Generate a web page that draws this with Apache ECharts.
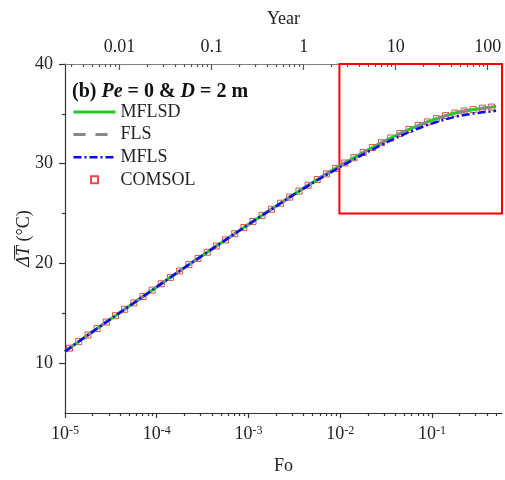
<!DOCTYPE html>
<html><head><meta charset="utf-8">
<script src="https://cdn.jsdelivr.net/npm/echarts@6/dist/echarts.min.js"></script>
<style>html,body{margin:0;padding:0;background:#fff}#c{width:505px;height:480px}</style>
</head><body><div id="c"></div>
<script>
// Fo values of the COMSOL samples
const foComsol = [
  1.12e-5,1.41e-5,1.78e-5,2.24e-5,2.82e-5,3.55e-5,4.47e-5,5.62e-5,7.08e-5,8.91e-5,
  1.12e-4,1.41e-4,1.78e-4,2.24e-4,2.82e-4,3.55e-4,4.47e-4,5.62e-4,7.08e-4,8.91e-4,
  1.12e-3,1.41e-3,1.78e-3,2.24e-3,2.82e-3,3.55e-3,4.47e-3,5.62e-3,7.08e-3,8.91e-3,
  1.12e-2,1.41e-2,1.78e-2,2.24e-2,2.82e-2,3.55e-2,4.47e-2,5.62e-2,7.08e-2,8.91e-2,
  0.112,0.141,0.178,0.224,0.282,0.355,0.447
];
const comsol = [
  11.50,12.16,12.82,13.47,14.12,14.76,15.40,16.04,16.68,17.32,
  17.96,18.60,19.24,19.88,20.50,21.12,21.74,22.36,22.98,23.60,
  24.21,24.82,25.43,26.04,26.65,27.25,27.84,28.42,28.98,29.53,
  30.07,30.60,31.12,31.62,32.11,32.58,33.03,33.44,33.83,34.19,
  34.52,34.82,35.08,35.28,35.44,35.57,35.68
];
// Fo values of the analytical curves
const foLine = [
  1e-5,
  1.12e-5,1.41e-5,1.78e-5,2.24e-5,2.82e-5,3.55e-5,4.47e-5,5.62e-5,7.08e-5,8.91e-5,
  1.12e-4,1.41e-4,1.78e-4,2.24e-4,2.82e-4,3.55e-4,4.47e-4,5.62e-4,7.08e-4,8.91e-4,
  1.12e-3,1.41e-3,1.78e-3,2.24e-3,2.82e-3,3.55e-3,4.47e-3,5.62e-3,7.08e-3,8.91e-3,
  1.12e-2,1.41e-2,1.78e-2,2.24e-2,2.82e-2,3.55e-2,4.47e-2,5.62e-2,7.08e-2,8.91e-2,
  0.112,0.141,0.178,0.224,0.282,0.355,0.447,0.50
];
const mflsd = [
  11.17,
  11.50,12.16,12.82,13.47,14.12,14.76,15.40,16.04,16.68,17.32,
  17.96,18.60,19.24,19.88,20.50,21.12,21.74,22.36,22.98,23.60,
  24.21,24.82,25.43,26.04,26.65,27.25,27.84,28.42,28.98,29.53,
  30.07,30.60,31.12,31.62,32.11,32.58,33.03,33.44,33.83,34.19,
  34.52,34.82,35.08,35.28,35.44,35.57,35.68,35.74
];
const fls = [
  11.17,
  11.50,12.16,12.82,13.47,14.12,14.76,15.40,16.04,16.68,17.32,
  17.96,18.60,19.24,19.88,20.50,21.12,21.74,22.36,22.98,23.60,
  24.21,24.82,25.43,26.04,26.65,27.25,27.84,28.42,28.98,29.52,
  30.06,30.59,31.11,31.61,32.10,32.57,33.02,33.43,33.82,34.18,
  34.51,34.81,35.07,35.27,35.43,35.56,35.67,35.73
];
const mfls = [
  11.17,
  11.50,12.16,12.82,13.47,14.12,14.76,15.40,16.04,16.68,17.32,
  17.96,18.60,19.24,19.88,20.50,21.12,21.74,22.36,22.98,23.60,
  24.21,24.82,25.43,26.04,26.65,27.21,27.78,28.34,28.88,29.41,
  29.93,30.44,30.94,31.42,31.89,32.34,32.77,33.16,33.53,33.87,
  34.18,34.46,34.70,34.88,35.03,35.15,35.25,35.30
];
// tick positions
const foMajorTicks = [1e-5,1e-4,1e-3,1e-2,1e-1];
const foMinorTicks = [
  2e-5,3e-5,4e-5,5e-5,6e-5,7e-5,8e-5,9e-5,
  2e-4,3e-4,4e-4,5e-4,6e-4,7e-4,8e-4,9e-4,
  2e-3,3e-3,4e-3,5e-3,6e-3,7e-3,8e-3,9e-3,
  2e-2,3e-2,4e-2,5e-2,6e-2,7e-2,8e-2,9e-2,
  0.2,0.3,0.4,0.5
];
const yearMajorTicks = [0.01,0.1,1,10,100];
const yearLabels = ['0.01','0.1','1','10','100'];
const yearMinorTicks = [
  0.003,0.004,0.005,0.006,0.007,0.008,0.009,
  0.02,0.03,0.04,0.05,0.06,0.07,0.08,0.09,
  0.2,0.3,0.4,0.5,0.6,0.7,0.8,0.9,
  2,3,4,5,6,7,8,9,
  20,30,40,50,60,70,80,90
];
const yMajorTicks = [10,20,30,40];
const yMinorTicks = [15,25,35];
const zoomBox = [[0.0098,25],[0.58,40]];

const FONT = "'Liberation Serif','Times New Roman',serif";
const TXT = '#222';
const FO_MIN = 1e-5, FO_MAX = 0.58, YR_MIN = 0.00255, YR_MAX = 143;

const chart = echarts.init(document.getElementById('c'), null, {renderer:'canvas'});

function supFmt(v){
  const e = Math.round(Math.log10(v));
  return '{b|10}{s|' + e + '}';
}
function yearFmt(v){
  let best = 0, d = Infinity;
  yearMajorTicks.forEach((t,i)=>{ const dd = Math.abs(Math.log10(t)-Math.log10(v)); if(dd<d){d=dd;best=i;} });
  return yearLabels[best];
}
const hideDot = {color:'rgba(0,0,0,0)',borderWidth:0,opacity:0};

chart.setOption({
  animation:false,
  backgroundColor:'#fff',
  textStyle:{fontFamily:FONT},
  title:{
    left:72, top:82, padding:0,
    text:'{b|(b) }{bi|Pe}{b| = 0 & }{bi|D}{b| = 2 m}',
    textStyle:{rich:{
      b:{fontFamily:FONT,fontSize:20,fontWeight:'bold',color:'#111'},
      bi:{fontFamily:FONT,fontSize:20,fontWeight:'bold',fontStyle:'italic',color:'#111'}
    }}
  },
  legend:{
    orient:'vertical', left:72, top:103, padding:0,
    itemWidth:42, itemHeight:7, itemGap:4.6,
    symbolKeepAspect:true,
    lineStyle:{width:'inherit'},
    textStyle:{fontFamily:FONT,fontSize:18,color:TXT,lineHeight:18},
    data:[
      {name:'MFLSD', itemStyle:hideDot},
      {name:'FLS', itemStyle:hideDot},
      {name:'MFLS', itemStyle:hideDot},
      {name:'COMSOL', icon:'path://M0,0L10,0L10,10L0,10Z', symbolKeepAspect:true}
    ]
  },
  grid:{left:65, right:3, top:64, bottom:64, containLabel:false},
  xAxis:[
    {type:'log', logBase:10, min:FO_MIN, max:FO_MAX, position:'bottom',
     name:'Fo', nameLocation:'middle', nameGap:44, nameMoveOverlap:false,
     nameTextStyle:{fontFamily:FONT,fontSize:18,color:TXT},
     axisLine:{show:true,lineStyle:{color:'#333',width:1.2}},
     axisTick:{show:true,inside:false,length:5,customValues:foMajorTicks,lineStyle:{color:'#333',width:1.2}},
     axisLabel:{show:true,margin:12,customValues:foMajorTicks,formatter:supFmt,
       rich:{b:{fontFamily:FONT,fontSize:18,color:TXT},s:{fontFamily:FONT,fontSize:12,color:TXT,verticalAlign:'top'}}},
     splitLine:{show:false}},
    {type:'log', logBase:10, min:FO_MIN, max:FO_MAX, position:'bottom',
     axisLine:{show:false},
     axisTick:{show:true,inside:false,length:3,customValues:foMinorTicks,lineStyle:{color:'#333',width:1.2}},
     axisLabel:{show:false}, splitLine:{show:false}},
    {type:'log', logBase:10, min:YR_MIN, max:YR_MAX, position:'top',
     name:'Year', nameLocation:'middle', nameGap:36, nameMoveOverlap:false,
     nameTextStyle:{fontFamily:FONT,fontSize:18,color:TXT},
     axisLine:{show:true,lineStyle:{color:'#808080',width:1.2}},
     axisTick:{show:true,inside:true,length:6,customValues:yearMajorTicks,lineStyle:{color:'#555',width:1.2}},
     axisLabel:{show:true,margin:8,customValues:yearMajorTicks,formatter:yearFmt,fontFamily:FONT,fontSize:18,color:TXT},
     splitLine:{show:false}},
    {type:'log', logBase:10, min:YR_MIN, max:YR_MAX, position:'top',
     axisLine:{show:false},
     axisTick:{show:true,inside:true,length:3,customValues:yearMinorTicks,lineStyle:{color:'#555',width:1.2}},
     axisLabel:{show:false}, splitLine:{show:false}}
  ],
  yAxis:[
    {type:'value', min:5, max:40, position:'left',
     name:'{i|\u0394\u0305T\u0305} (°C)', nameLocation:'middle', nameGap:32, nameRotate:90, nameMoveOverlap:false,
     nameTextStyle:{fontFamily:FONT,fontSize:18,color:TXT,rich:{i:{fontFamily:FONT,fontSize:18,fontStyle:'italic',color:TXT}}},
     axisLine:{show:true,lineStyle:{color:'#333',width:1.2}},
     axisTick:{show:true,inside:false,length:6,customValues:yMajorTicks,lineStyle:{color:'#333',width:1.2}},
     axisLabel:{show:true,margin:12,customValues:yMajorTicks,fontFamily:FONT,fontSize:18,color:TXT},
     splitLine:{show:false}},
    {type:'value', min:5, max:40, position:'left',
     axisLine:{show:false},
     axisTick:{show:true,inside:false,length:3,customValues:yMinorTicks,lineStyle:{color:'#333',width:1.2}},
     axisLabel:{show:false}, splitLine:{show:false}}
  ],
  series:[
    {name:'COMSOL', type:'scatter', xAxisIndex:0, yAxisIndex:0,
     symbol:'rect', symbolSize:6, symbolKeepAspect:true,
     itemStyle:{color:'rgba(255,255,255,0)',borderColor:'#e02020',borderWidth:1},
     data:foComsol.map((f,i)=>[f,comsol[i]]),
     markArea:{silent:true,
       itemStyle:{color:'rgba(0,0,0,0)',borderColor:'#ff0000',borderWidth:2},
       data:[[{coord:zoomBox[0]},{coord:zoomBox[1]}]]}},
    {name:'MFLSD', type:'line', xAxisIndex:0, yAxisIndex:0, symbol:'none', showSymbol:false,
     lineStyle:{color:'#22cc22',width:3}, itemStyle:{color:'#22cc22'},
     data:foLine.map((f,i)=>[f,mflsd[i]])},
    {name:'FLS', type:'line', xAxisIndex:0, yAxisIndex:0, symbol:'none', showSymbol:false,
     lineStyle:{color:'#888888',width:3,type:[12,10]}, itemStyle:{color:'#888888'},
     data:foLine.map((f,i)=>[f,fls[i]])},
    {name:'MFLS', type:'line', xAxisIndex:0, yAxisIndex:0, symbol:'none', showSymbol:false,
     lineStyle:{color:'#0a0aee',width:2.5,type:[8,3,2,3]}, itemStyle:{color:'#0a0aee'},
     data:foLine.map((f,i)=>[f,mfls[i]])}
  ]
});
</script>
</body></html>
